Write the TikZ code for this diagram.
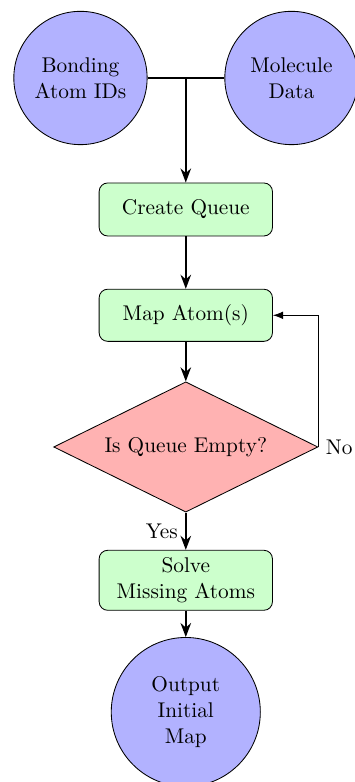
\documentclass[tikz,border=0pt]{standalone}
\usepackage{tikz}
\usetikzlibrary{shapes.geometric,arrows.meta,positioning}

\begin{document}
\begin{tikzpicture}[>=Stealth,
  terminal/.style={circle, draw, fill=blue!30, minimum size=2.2cm, align=center, inner sep=1pt},
  process/.style={rectangle, rounded corners, draw, fill=green!20, minimum width=2.86cm, align=center},
  decision/.style={diamond, aspect=2, draw, fill=red!30, minimum width=4.36cm, minimum height=2.15cm, inner sep=0pt},
  flow/.style={->, thick}]
  \useasboundingbox (0,0) rectangle (5.858,-12.905);

  % Inputs
  \node[terminal] (bond) at (1.328,-1.287) {Bonding\\Atom IDs};
  \node[terminal] (mol) at (4.810,-1.287) {Molecule\\Data};
  \coordinate (join) at (3.066,-1.287);

  % Steps
  \node[process, minimum height=0.875cm] (queue) at (3.066,-3.457) {Create Queue};
  \node[process, minimum height=0.86cm] (map) at (3.066,-5.203) {Map Atom(s)};
  \node[decision] (empty) at (3.066,-7.376) {Is Queue Empty?};
  \node[process, minimum height=0.99cm] (solve) at (3.066,-9.576) {Solve\\Missing Atoms};
  \node[terminal, minimum size=2.46cm] (out) at (3.066,-11.75) {Output\\Initial\\Map};

  % Connectors
  \draw[thick] (bond) -- (mol);
  \draw[flow] (join) -- (queue);
  \draw[flow] (queue) -- (map);
  \draw[flow] (map) -- (empty);
  \draw[flow] (empty) -- node[left] {Yes} (solve);
  \draw[flow] (solve) -- (out);
  \draw[-{Latex}] (empty.east) node[right] {No} |- (map.east);
\end{tikzpicture}
\end{document}
